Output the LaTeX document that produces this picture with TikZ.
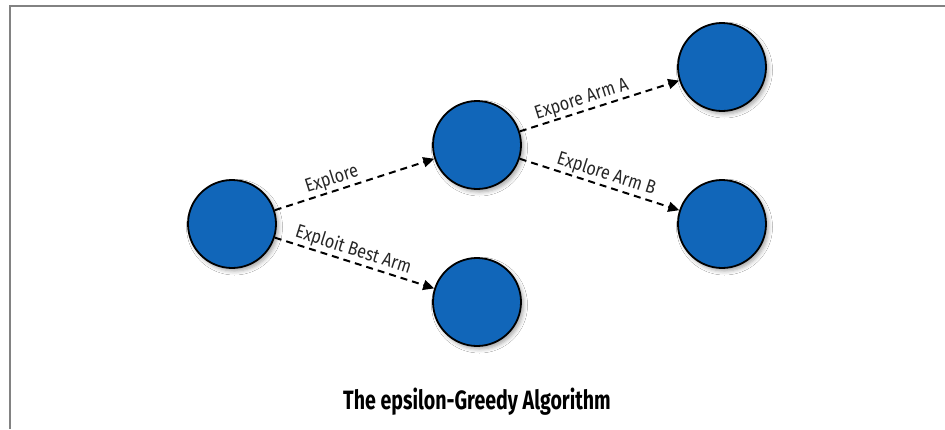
\documentclass[tikz,border=0pt]{standalone}
\usepackage{fontspec}
\setmainfont{Fira Sans}
\newfontfamily\lblfont[FakeStretch=0.85]{Fira Sans}
\newfontfamily\ttlfont[FakeStretch=0.74]{Fira Sans}
\usetikzlibrary{arrows.meta,shadows.blur}
\definecolor{nodeblue}{RGB}{17,102,185}
\definecolor{framegray}{RGB}{130,130,130}
\tikzset{
  statenode/.style={circle, draw=black, line width=1.8pt, fill=nodeblue, minimum size=88pt, inner sep=0pt,
    blur shadow={shadow xshift=2.5pt, shadow yshift=-3pt, shadow blur radius=4pt, shadow opacity=35}},
  movearrow/.style={draw=black, line width=2pt, dash pattern=on 7pt off 5pt,
    -{Triangle[length=11pt,width=10pt]}},
  armlabel/.style={sloped, above, font=\lblfont\fontsize{19}{22}\selectfont, text=black!85, inner sep=1.5pt},
}
\begin{document}
\begin{tikzpicture}[x=1pt,y=-1pt]
\useasboundingbox (0,0) rectangle (945,429);
\fill[white] (0,0) rectangle (945,429);
\draw[framegray, line width=1.6pt] (945,6) -- (10,6) -- (10,429);

\node[statenode] (root) at (232,224) {};
\node[statenode] (mid) at (477,145) {};
\node[statenode] (exploit) at (477,302) {};
\node[statenode] (armA) at (722,67) {};
\node[statenode] (armB) at (722,224) {};

\draw[movearrow] (root) -- node[armlabel, pos=0.38] {Explore} (mid);
\draw[movearrow] (root) -- node[armlabel, pos=0.47] {Exploit Best Arm} (exploit);
\draw[movearrow] (mid) -- node[armlabel, pos=0.41] {Expore Arm A} (armA);
\draw[movearrow] (mid) -- node[armlabel, pos=0.52] {Explore Arm B} (armB);

\node[font=\ttlfont\bfseries\fontsize{26.5}{30}\selectfont, text=black] (title) at (477,402) {The epsilon-Greedy Algorithm};
\end{tikzpicture}
\end{document}
